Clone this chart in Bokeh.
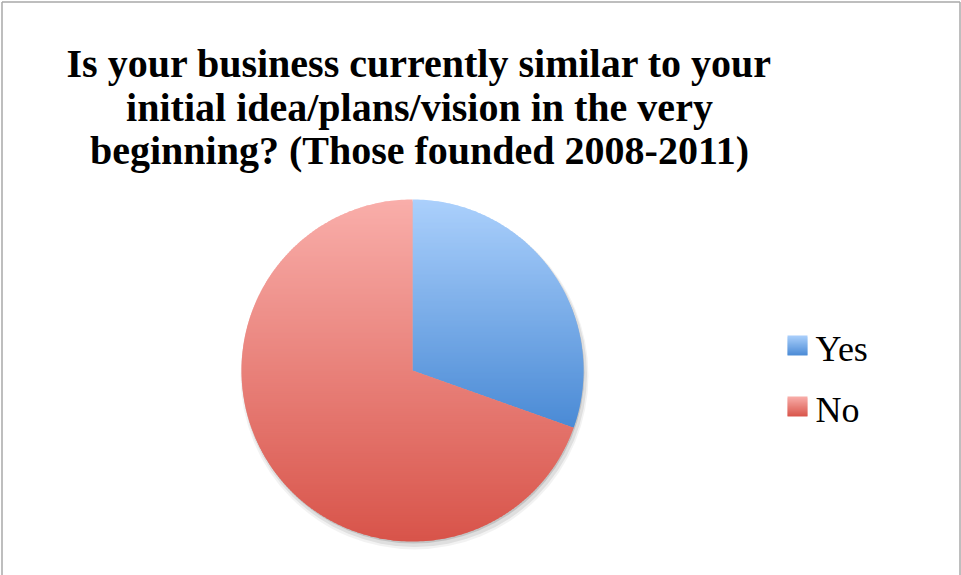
import numpy as np
from bokeh.plotting import figure
from bokeh.models import Range1d
from bokeh.core.properties import value
from bokeh.embed import file_html
from bokeh.resources import INLINE

# ---- data ----
title_lines = [
    "Is your business currently similar to your",
    "initial idea/plans/vision in the very",
    "beginning? (Those founded 2008-2011)",
]
categories = ["Yes", "No"]
counts = [7, 16]
top_colors = ["#abd0fc", "#f9aeaa"]
bottom_colors = ["#4a8ad5", "#d8544a"]

# ---- layout ----
W, H = 961, 575
CX, CY, R = 412, 370, 171

p = figure(width=W, height=H, x_range=Range1d(0, W), y_range=Range1d(H, 0),
           output_backend="svg", toolbar_location=None, min_border=0,
           x_axis_type=None, y_axis_type=None)
p.grid.visible = False
p.outline_line_color = None
p.background_fill_color = "white"
p.border_fill_color = "white"

# chart frame (left, top, right edges)
p.multi_line(xs=[[1.5, 1.5], [1.5, W - 1.5], [W - 1.5, W - 1.5]],
             ys=[[H + 5, 1.5], [1.5, 1.5], [1.5, H + 5]],
             line_color="#a8a8a8", line_width=1.5)


def hex2rgb(h):
    h = h.lstrip("#")
    return np.array([int(h[i:i + 2], 16) for i in (0, 2, 4)], dtype=float)


def mix(c0, c1, t):
    a, b = hex2rgb(c0), hex2rgb(c1)
    c = a + (b - a) * t
    return "#%02x%02x%02x" % tuple(int(round(v)) for v in c)


def clip_half(poly, y0, keep_above):
    out = []
    n = len(poly)
    def inside(pt):
        return pt[1] >= y0 if keep_above else pt[1] <= y0
    for i in range(n):
        P = poly[i - 1]
        Q = poly[i]
        if inside(Q):
            if not inside(P):
                t = (y0 - P[1]) / (Q[1] - P[1])
                out.append((P[0] + t * (Q[0] - P[0]), y0))
            out.append(Q)
        elif inside(P):
            t = (y0 - P[1]) / (Q[1] - P[1])
            out.append((P[0] + t * (Q[0] - P[0]), y0))
    return out


def gradient_bands(poly, c_top, c_bot, step=2, overlap=1.0):
    ys = [pt[1] for pt in poly]
    ymin, ymax = min(ys), max(ys)
    xs_all, ys_all, cols = [], [], []
    y = np.floor(ymin)
    while y < ymax:
        band = clip_half(poly, y, True)
        if band:
            band = clip_half(band, y + step + overlap, False)
        if len(band) >= 3:
            t = min(max(((y + step / 2) - ymin) / (ymax - ymin), 0), 1)
            xs_all.append([b[0] for b in band])
            ys_all.append([b[1] for b in band])
            cols.append(mix(c_top, c_bot, t))
        y += step
    return xs_all, ys_all, cols


# ---- shadow ----
for dx, dy, dr, a in [(2, 5, 3, 0.05), (2, 4, 1.5, 0.08), (1, 2, 0, 0.12)]:
    p.ellipse(x=[CX + dx], y=[CY + dy], width=[2 * (R + dr)], height=[2 * (R + dr)],
              fill_color="black", fill_alpha=a, line_color=None)

# ---- pie slices ----
total = float(sum(counts))
start = -np.pi / 2
for cat, v, ct, cb in zip(categories, counts, top_colors, bottom_colors):
    end = start + 2 * np.pi * v / total
    n = max(8, int(400 * v / total))
    th = np.linspace(start, end, n)
    poly = [(CX, CY)] + [(CX + R * np.cos(t), CY + R * np.sin(t)) for t in th]
    xs, ys, cols = gradient_bands(poly, ct, cb, step=2)
    p.patches(xs=xs, ys=ys, fill_color=cols, line_color=None)
    start = end

# ---- title ----
ty0, tdy = 63, 43.5
p.text(x=[419] * len(title_lines), y=[ty0 + i * tdy for i in range(len(title_lines))],
       text=title_lines, text_font=value("Liberation Serif"), text_font_style="bold",
       text_font_size="40px", text_align="center", text_baseline="alphabetic",
       text_color="black")

# ---- legend ----
lx, ly0, ldy, sq = 787, 335, 61, 20
for i, (cat, ct, cb) in enumerate(zip(categories, top_colors, bottom_colors)):
    top = ly0 + i * ldy
    sqpoly = [(lx, top), (lx + sq, top), (lx + sq, top + sq), (lx, top + sq)]
    xs, ys, cols = gradient_bands(sqpoly, ct, cb, step=2)
    p.patches(xs=xs, ys=ys, fill_color=cols, line_color=None)
    p.text(x=[lx + 28], y=[top + 13], text=[cat], text_font=value("Liberation Serif"),
           text_font_size="36px", text_align="left", text_baseline="alphabetic",
           text_color="black")

open("out.html", "w").write(file_html(p, INLINE))
